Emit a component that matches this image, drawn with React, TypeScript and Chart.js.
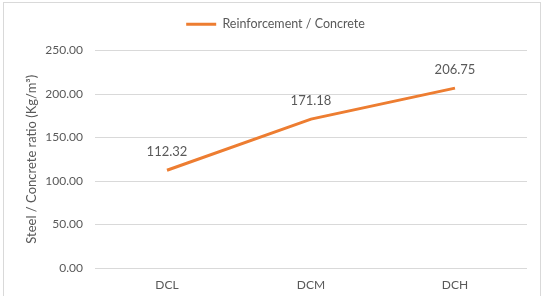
import React, { useEffect, useRef } from "react";
import { Chart, registerables } from "chart.js";

Chart.register(...registerables);

const categories = ["DCL", "DCM", "DCH"];
const seriesName = "Reinforcement / Concrete";
const values = [112.32, 171.18, 206.75];
const yTicks = [0, 50, 100, 150, 200, 250];
const yTitle = "Steel / Concrete ratio (Kg/m³)";

const FONT = "Lato, 'Open Sans', sans-serif";
const TEXT = "#595959";
const ORANGE = "#ED7D31";

const dataLabels = {
  id: "dataLabels",
  afterDatasetsDraw(chart: any) {
    const ctx = chart.ctx;
    const meta = chart.getDatasetMeta(0);
    ctx.save();
    ctx.font = `13px ${FONT}`;
    ctx.fillStyle = TEXT;
    ctx.textAlign = "center";
    ctx.textBaseline = "middle";
    meta.data.forEach((pt: any, i: number) => {
      const v = chart.data.datasets[0].data[i] as number;
      ctx.fillText(v.toFixed(2), pt.x, pt.y - 18);
    });
    ctx.restore();
  },
};

const legendSpace = {
  id: "legendSpace",
  beforeLayout(chart: any) {
    const lg = chart.legend;
    if (lg && !lg.__patched) {
      const orig = lg.fit;
      lg.fit = function (this: any) {
        orig.call(this);
        this.height += 10;
      };
      lg.__patched = true;
    }
  },
};

export default function App() {
  const ref = useRef<HTMLCanvasElement>(null);
  useEffect(() => {
    if (!ref.current) return;
    const chart = new Chart(ref.current, {
      type: "line",
      data: {
        labels: categories,
        datasets: [
          {
            label: seriesName,
            data: values,
            borderColor: ORANGE,
            backgroundColor: ORANGE,
            borderWidth: 3,
            pointRadius: 0,
            tension: 0,
          },
        ],
      },
      options: {
        animation: false,
        responsive: false,
        maintainAspectRatio: false,
        layout: { padding: { left: 24, right: 19, top: 8, bottom: 0 } },
        plugins: {
          tooltip: { enabled: false },
          legend: {
            position: "top",
            labels: {
              usePointStyle: true,
              pointStyle: "line",
              pointStyleWidth: 30,
              boxWidth: 30,
              color: TEXT,
              font: { family: FONT, size: 12.5 },
              padding: 10,
            },
          },
        },
        scales: {
          x: {
            offset: true,
            grid: { display: false, drawTicks: false },
            border: { display: false },
            ticks: { color: TEXT, font: { family: FONT, size: 12 }, padding: 10 },
            afterFit(scale: any) {
              scale.height = 28;
            },
          },
          y: {
            min: 0,
            max: 250,
            afterBuildTicks(scale: any) {
              scale.ticks = yTicks.map((v) => ({ value: v }));
            },
            grid: { color: "#d9d9d9", drawTicks: false },
            border: { display: false },
            ticks: {
              color: TEXT,
              font: { family: FONT, size: 12 },
              padding: 12,
              callback: (v: any) => Number(v).toFixed(2),
            },
            title: {
              display: true,
              text: yTitle,
              color: TEXT,
              font: { family: FONT, size: 13 },
              padding: { top: 0, bottom: 0 },
            },
            afterFit(scale: any) {
              scale.width = 71;
            },
          },
        },
      },
      plugins: [dataLabels, legendSpace],
    });
    return () => chart.destroy();
  }, []);
  return (
    <div style={{ position: "absolute", left: 0, top: 0, width: 546, height: 296, background: "#fff" }}>
      <div
        style={{
          position: "absolute",
          left: 3,
          top: 2,
          width: 538,
          height: 300,
          border: "1px solid #d9d9d9",
          boxSizing: "border-box",
        }}
      />
      <canvas ref={ref} width={546} height={296} style={{ position: "absolute", left: 0, top: 0 }} />
    </div>
  );
}
